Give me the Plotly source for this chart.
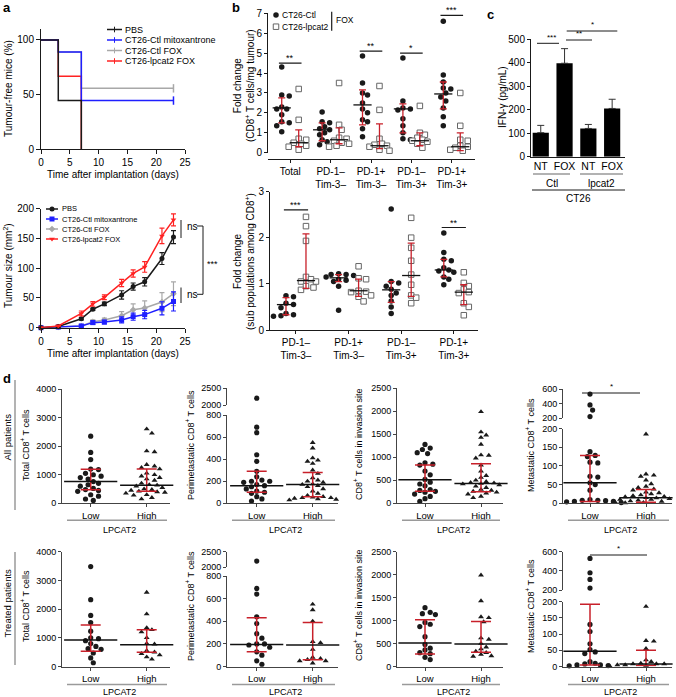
import plotly.graph_objects as go

W, H = 676, 697
FONT = "Liberation Sans"
BLACK = "#1a1a1a"
REDE = "#c8202a"
BLUE = "#1f1fff"
RED = "#ff2222"
GRAY = "#a8a8a8"

# ---------------- DATA ----------------
# a (top) Kaplan-Meier
km_pbs_days = [0, 3, 7]
km_pbs_pct = [100, 44.4, 0]
km_mito_days = [0, 3, 7, 23]
km_mito_pct = [100, 88.9, 44.4, 44.4]
km_ctlfox_days = [0, 3, 7, 23]
km_ctlfox_pct = [100, 88.9, 55.6, 55.6]
km_lpfox_days = [0, 3, 7]
km_lpfox_pct = [100, 66.7, 0]
km_legend = ["PBS", "CT26-Ctl mitoxantrone", "CT26-Ctl FOX", "CT26-lpcat2 FOX"]

# a (bottom) tumour growth
tg_days = [0, 3, 7, 9, 11, 14, 16, 18, 21, 23]
tg_pbs = [0, 2, 15, 31, 40, 55, 69, 77, 116, 152]
tg_pbs_err = [0.5, 1, 2, 2, 3, 7, 6, 7, 10, 11]
tg_mito = [0, 1, 3, 8.5, 9.5, 13, 18.5, 22, 32.5, 44]
tg_mito_err = [0.3, 0.5, 2, 3, 3, 5, 6, 7, 11, 16]
tg_ctlfox = [0, 1, 3, 10, 13, 20, 30, 33, 43, 57]
tg_ctlfox_err = [0.3, 0.5, 2, 3, 3, 7, 10, 12, 16, 20]
tg_lpfox = [0, 3, 24, 40, 51, 75, 91, 102, 154, 181]
tg_lpfox_err = [0.5, 1, 4, 4, 4, 6, 6, 9, 13, 10]

# b (top)
b_top_cats = ["Total", "PD-1–<br>Tim-3–", "PD-1+<br>Tim-3–", "PD-1–<br>Tim-3+", "PD-1+<br>Tim-3+"]
b_top_ctl = [
    [4.3, 2.9, 2.85, 2.3, 2.2, 2.2, 1.9, 1.55, 1.5, 1.35, 1.05],
    [2.05, 1.55, 1.5, 1.3, 1.2, 1.15, 1.0, 0.9, 0.65, 0.55, 0.4],
    [4.85, 3.5, 3.0, 2.9, 2.5, 2.2, 2.0, 1.65, 1.55, 1.2, 0.8],
    [4.75, 2.6, 2.25, 2.2, 2.15, 1.7, 1.35, 1.0, 0.7, 0.65],
    [6.6, 3.9, 3.55, 3.25, 3.2, 3.0, 2.8, 2.6, 2.25, 1.8, 1.35],
]
b_top_lp = [
    [3.2, 1.65, 0.7, 0.65, 0.5, 0.45, 0.35, 0.3, 0.15],
    [3.5, 1.4, 1.15, 0.75, 0.7, 0.6, 0.5, 0.45, 0.35, 0.3],
    [3.35, 2.15, 0.7, 0.45, 0.4, 0.35, 0.3, 0.15, 0.1],
    [2.35, 1.0, 0.9, 0.75, 0.65, 0.6, 0.55, 0.45, 0.25],
    [3.0, 1.35, 0.65, 0.6, 0.35, 0.3, 0.25, 0.15, 0.1],
]
b_top_ctl_stats = [(2.25, 1.5, 2.75), (1.15, 0.6, 1.5), (2.4, 1.4, 3.15), (2.2, 1.0, 2.45), (2.95, 2.2, 3.55)]
b_top_lp_stats = [(0.5, 0.3, 1.15), (0.65, 0.45, 1.25), (0.35, 0.2, 1.45), (0.6, 0.35, 1.0), (0.3, 0.1, 1.0)]
b_top_sig = [(0, 4.5, "**"), (2, 5.1, "**"), (3, 5.0, "*"), (4, 6.9, "***")]

# b (bottom)
b_bot_cats = ["PD-1–<br>Tim-3–", "PD-1+<br>Tim-3–", "PD-1–<br>Tim-3+", "PD-1+<br>Tim-3+"]
b_bot_ctl = [
    [0.74, 0.72, 0.58, 0.55, 0.48, 0.36, 0.33, 0.31, 0.3],
    [1.22, 1.2, 1.2, 1.18, 1.15, 1.1, 1.08, 1.05, 0.95, 0.43],
    [2.62, 1.05, 1.02, 0.95, 0.88, 0.8, 0.75, 0.63, 0.5, 0.36],
    [2.1, 1.68, 1.53, 1.5, 1.35, 1.3, 1.28, 1.25, 1.15, 1.1, 0.98],
]
b_bot_lp = [
    [2.45, 2.25, 1.93, 1.15, 1.1, 1.05, 1.05, 0.95, 0.92, 0.87],
    [1.38, 1.12, 1.1, 0.85, 0.83, 0.82, 0.75, 0.72, 0.62],
    [2.43, 2.0, 1.78, 1.5, 1.2, 0.98, 0.75, 0.7, 0.58],
    [1.25, 1.02, 0.95, 0.88, 0.82, 0.8, 0.58, 0.5, 0.32],
]
b_bot_ctl_stats = [(0.55, 0.33, 0.7), (1.13, 1.05, 1.2), (0.87, 0.6, 1.05), (1.3, 1.15, 1.53)]
b_bot_lp_stats = [(1.07, 0.9, 2.08), (0.85, 0.73, 1.1), (1.18, 0.73, 1.88), (0.82, 0.55, 0.98)]
b_bot_sig = [(0, 2.6, "***"), (3, 2.22, "**")]

# c
c_labels = ["NT", "FOX", "NT", "FOX"]
c_vals = [102, 397, 120, 205]
c_err = [31, 62, 17, 39]

# d
d_xcats = ["Low", "High"]
d_data = {
    "all_total": dict(
        low=[2350, 1780, 1530, 1200, 1180, 1050, 1000, 950, 900, 850, 760, 700, 650, 600, 520, 480, 450, 420, 300, 250, 150, 100],
        high=[2600, 2450, 1830, 1800, 1350, 1300, 1250, 1200, 1050, 1000, 950, 900, 850, 800, 700, 650, 630, 600, 550, 500, 480, 450, 420, 400, 380, 350, 300, 280, 250, 200, 150],
        low_stat=(760, 470, 1190), high_stat=(630, 420, 1200)),
    "all_peri": dict(
        low=[2200, 690, 640, 440, 380, 290, 240, 210, 200, 200, 190, 170, 160, 150, 130, 110, 100, 90, 60, 40, 20],
        high=[550, 500, 410, 390, 380, 360, 300, 270, 230, 210, 200, 190, 175, 170, 160, 150, 130, 110, 90, 70, 60, 55, 50, 50, 45, 40, 35, 30],
        low_stat=(160, 100, 290), high_stat=(170, 60, 280)),
    "all_inv": dict(
        low=[1280, 1200, 1170, 1100, 1080, 880, 850, 830, 700, 620, 520, 460, 420, 380, 300, 280, 260, 240, 200, 150, 100, 40],
        high=[1990, 1550, 1480, 1430, 1280, 1050, 1040, 980, 830, 700, 600, 560, 500, 470, 450, 440, 430, 420, 400, 370, 340, 300, 280, 260, 240, 220, 200, 150, 120],
        low_stat=(510, 260, 830), high_stat=(430, 250, 860)),
    "all_meta": dict(
        low=[530, 380, 310, 220, 138, 128, 125, 110, 108, 72, 70, 55, 50, 35, 10, 8, 8, 7, 5, 5, 4, 2],
        high=[640, 185, 78, 75, 72, 62, 52, 45, 42, 38, 35, 30, 28, 25, 22, 20, 18, 17, 15, 14, 12, 10, 10, 8, 6, 5, 5, 4, 3, 2, 1],
        low_stat=(55, 5, 128), high_stat=(15, 3, 37)),
    "tr_total": dict(
        low=[3480, 2330, 1780, 1530, 1230, 1000, 970, 900, 800, 700, 620, 600, 470, 300, 130],
        high=[2580, 1830, 1350, 1280, 1200, 1000, 800, 780, 550, 500, 450, 400, 330, 250],
        low_stat=(920, 530, 1450), high_stat=(760, 500, 1280)),
    "tr_peri": dict(
        low=[2200, 690, 640, 440, 380, 290, 250, 200, 200, 190, 170, 130, 100, 50, 20],
        high=[550, 500, 400, 220, 210, 150, 80, 70, 60, 50, 50, 30],
        low_stat=(195, 130, 430), high_stat=(190, 60, 390)),
    "tr_inv": dict(
        low=[1280, 1180, 1150, 1130, 960, 920, 870, 650, 480, 400, 360, 300, 280, 200, 150],
        high=[1990, 1430, 1080, 1060, 970, 620, 590, 500, 420, 380, 330, 300, 260, 230, 220],
        low_stat=(510, 270, 1020), high_stat=(490, 310, 980)),
    "tr_meta": dict(
        low=[530, 380, 310, 220, 130, 108, 70, 52, 45, 40, 15, 10, 8, 5, 5, 3, 2],
        high=[185, 80, 78, 55, 20, 15, 10, 8, 8, 8, 5, 5, 5, 3, 2, 2],
        low_stat=(47, 5, 192), high_stat=(8, 3, 50)),
}
d_titles = ["Total CD8<sup>+</sup> T cells", "Perimetastatic CD8<sup>+</sup> T cells",
            "CD8<sup>+</sup> T cells in invasion site", "Metastatic CD8<sup>+</sup> T cells"]

# ---------------- HELPERS ----------------
layout = dict(width=W, height=H, margin=dict(l=0, r=0, t=0, b=0), template="none",
              paper_bgcolor="white", plot_bgcolor="rgba(0,0,0,0)", showlegend=False,
              font=dict(family=FONT, color="black", size=10))
shapes, annotations, traces = [], [], []


def fx(px):
    return px / W


def fy(py):
    return 1 - py / H


def xn(n):
    return "x" if n == 1 else f"x{n}"


def yn(n):
    return "y" if n == 1 else f"y{n}"


def base_axis(fs=10):
    return dict(showgrid=False, zeroline=False, showline=True, linecolor=BLACK, linewidth=1,
                ticks="outside", ticklen=3, tickwidth=1, tickcolor=BLACK,
                tickfont=dict(family=FONT, size=fs, color="black"), fixedrange=True)


def set_x(n, px0, px1, rng, fs=10, **kw):
    d = base_axis(fs)
    d.update(domain=[fx(px0), fx(px1)], range=rng, anchor=yn(n))
    d.update(kw)
    layout["xaxis" if n == 1 else f"xaxis{n}"] = d


def set_y(n, pybot, pytop, rng, anchor_x=None, fs=10, **kw):
    d = base_axis(fs)
    d.update(domain=[fy(pybot), fy(pytop)], range=rng, anchor=xn(anchor_x or n))
    d.update(kw)
    layout["yaxis" if n == 1 else f"yaxis{n}"] = d


def ymap(pybot, pytop, r0, r1):
    return lambda v: pybot - (v - r0) / (r1 - r0) * (pybot - pytop)


def txt(px, py, s, size=10, xa="center", ya="middle", angle=0, color="black", bold=False):
    if bold:
        s = f"<b>{s}</b>"
    annotations.append(dict(x=fx(px), y=fy(py), xref="paper", yref="paper", text=s, showarrow=False,
                            font=dict(family=FONT, size=size, color=color), xanchor=xa, yanchor=ya,
                            textangle=angle, borderpad=0))


def line(px0, py0, px1, py1, color=BLACK, width=1):
    shapes.append(dict(type="line", xref="paper", yref="paper", x0=fx(px0), x1=fx(px1),
                       y0=fy(py0), y1=fy(py1), line=dict(color=color, width=width)))


def swarm_offsets(vals, ypx, d, step):
    order = sorted(range(len(vals)), key=lambda i: -vals[i])
    placed, offs = [], [0.0] * len(vals)
    cands = [0.0]
    for j in range(1, 80):
        cands += [j * step, -j * step]
    for i in order:
        y = ypx(vals[i])
        for c in cands:
            if all((c - px) ** 2 + (y - py) ** 2 >= d * d for px, py in placed):
                offs[i] = c
                placed.append((c, y))
                break
    return offs


def tickmark(c, size=6, width=1.5):
    return dict(symbol="line-ns-open", size=size, color=c, line=dict(color=c, width=width))


def medmark(size, width):
    return dict(symbol="line-ew-open", size=size, color="#111111", line=dict(color="#111111", width=width))


# overlay pixel axis (for legend glyphs)
layout["xaxis18"] = dict(domain=[0, 1], range=[0, W], visible=False, anchor="y18", fixedrange=True)
layout["yaxis18"] = dict(domain=[0, 1], range=[H, 0], visible=False, anchor="x18", fixedrange=True)

# ---------------- PANEL a top ----------------
set_x(1, 41, 185, [0, 25], tickvals=[0, 5, 10, 15, 20, 25], ticklen=4)
set_y(1, 149, 29, [0, 110], tickvals=[0, 50, 100], ticklen=4)
km_series = [
    (km_ctlfox_days, km_ctlfox_pct, GRAY),
    (km_lpfox_days, km_lpfox_pct, RED),
    (km_mito_days, km_mito_pct, BLUE),
    (km_pbs_days, km_pbs_pct, BLACK),
]
for dd, pp, c in km_series:
    traces.append(go.Scatter(x=dd, y=pp, mode="lines", line=dict(color=c, width=1.5, shape="hv"),
                             xaxis="x", yaxis="y", cliponaxis=False))
for dd, pp, c in [(km_ctlfox_days, km_ctlfox_pct, GRAY), (km_mito_days, km_mito_pct, BLUE)]:
    traces.append(go.Scatter(x=[dd[-1]], y=[pp[-1]], mode="markers", marker=tickmark(c, 6, 1.5),
                             xaxis="x", yaxis="y", cliponaxis=False))
txt(113, 174, "Time after implantation (days)", 10)
txt(8, 89, "Tumour-free mice (%)", 10, angle=-90)
km_cols = [BLACK, BLUE, GRAY, RED]
for i, (lab, c) in enumerate(zip(km_legend, km_cols)):
    yy = 29.5 + 10.5 * i
    traces.append(go.Scatter(x=[107, 122], y=[yy, yy], mode="lines", line=dict(color=c, width=1.5),
                             xaxis="x18", yaxis="y18"))
    traces.append(go.Scatter(x=[114.5], y=[yy], mode="markers", marker=tickmark(c, 4, 1),
                             xaxis="x18", yaxis="y18"))
    txt(124, yy, lab, 9, xa="left")

# ---------------- PANEL a bottom ----------------
set_x(2, 41, 185, [0, 25], tickvals=[0, 5, 10, 15, 20, 25], ticklen=4)
set_y(2, 327.7, 208.5, [0, 200], tickvals=[0, 50, 100, 150, 200], ticklen=4)
tg_series = [
    (tg_ctlfox, tg_ctlfox_err, GRAY, "diamond"),
    (tg_mito, tg_mito_err, BLUE, "square"),
    (tg_pbs, tg_pbs_err, BLACK, "circle"),
    (tg_lpfox, tg_lpfox_err, RED, "triangle-down"),
]
for v, e, c, sym in tg_series:
    traces.append(go.Scatter(x=tg_days, y=v, mode="lines+markers",
                             line=dict(color=c, width=1.5),
                             marker=dict(symbol=sym, size=5, color=c),
                             error_y=dict(type="data", array=e, color=c, thickness=1.2, width=2.5),
                             xaxis="x2", yaxis="y2", cliponaxis=False))
txt(113, 353, "Time after implantation (days)", 10)
txt(8, 266, "Tumour size (mm<sup>2</sup>)", 10, angle=-90)
leg2 = [(BLACK, "circle", "PBS"), (BLUE, "square", "CT26-Ctl mitoxantrone"),
        (GRAY, "diamond", "CT26-Ctl FOX"), (RED, "triangle-down", "CT26-lpcat2 FOX")]
for i, (c, sym, lab) in enumerate(leg2):
    yy = 209 + 10 * i
    traces.append(go.Scatter(x=[46, 52, 58], y=[yy, yy, yy], mode="lines", line=dict(color=c, width=1.5),
                             xaxis="x18", yaxis="y18"))
    traces.append(go.Scatter(x=[52], y=[yy], mode="markers", marker=dict(symbol=sym, size=5, color=c),
                             xaxis="x18", yaxis="y18"))
    txt(61, yy, lab, 7.5, xa="left")
# significance brackets
line(181, 220, 181, 238)
txt(186, 226.5, "ns", 10, xa="left")
line(197, 226, 203, 226)
line(203, 226, 203, 294.3)
line(197, 294.3, 203, 294.3)
txt(206, 264, "***", 9, xa="left")
line(181, 287.5, 181, 303)
txt(186, 294.5, "ns", 10, xa="left")

# ---------------- PANEL b top ----------------
set_x(3, 268, 475, [-0.55, 4.575], tickvals=list(range(5)), ticktext=b_top_cats)
layout["xaxis3"]["anchor"] = "free"
layout["xaxis3"]["position"] = fy(159.3)
set_y(3, 152.7, 13.3, [0, 7], tickvals=list(range(8)))
OFFB = 0.21


def draw_b(ctl, lp, ctl_stats, lp_stats, xa, ya, ypx, xscale):
    for side, data, stats in [(-1, ctl, ctl_stats), (1, lp, lp_stats)]:
        for i, vals in enumerate(data):
            o = swarm_offsets(vals, ypx, 5.3, 2.5)
            xs = [i + side * OFFB + oo / xscale for oo in o]
            if side < 0:
                mk = dict(symbol="circle", size=5.5, color=BLACK)
            else:
                mk = dict(symbol="square", size=5.5, color="white", line=dict(color="#666666", width=1))
            traces.append(go.Scatter(x=xs, y=vals, mode="markers", marker=mk, xaxis=xa, yaxis=ya,
                                     cliponaxis=False))
        traces.append(go.Scatter(
            x=[i + side * OFFB for i in range(len(stats))], y=[s[0] for s in stats], mode="markers",
            marker=medmark(13, 1.3),
            error_y=dict(type="data", symmetric=False, array=[s[2] - s[0] for s in stats],
                         arrayminus=[s[0] - s[1] for s in stats], color=REDE, thickness=1.3, width=3.5),
            xaxis=xa, yaxis=ya, cliponaxis=False))


draw_b(b_top_ctl, b_top_lp, b_top_ctl_stats, b_top_lp_stats, "x3", "y3",
       ymap(152.7, 13.3, 0, 7), (475 - 268) / 5.125)
for ci, yv, s in b_top_sig:
    shapes.append(dict(type="line", xref="x3", yref="y3", x0=ci - 0.28, x1=ci + 0.28, y0=yv, y1=yv,
                       line=dict(color=BLACK, width=1.2)))
    annotations.append(dict(x=ci, y=yv, xref="x3", yref="y3", text=s, showarrow=False, yanchor="bottom",
                            font=dict(family=FONT, size=9, color="black"), yshift=-2))
txt(244, 86, "Fold change<br>(CD8<sup>+</sup> T cells/mg tumour)", 10, angle=-90)
# legend b
traces.append(go.Scatter(x=[276], y=[15], mode="markers", marker=dict(symbol="circle", size=5.5, color=BLACK),
                         xaxis="x18", yaxis="y18"))
traces.append(go.Scatter(x=[276], y=[26.7], mode="markers",
                         marker=dict(symbol="square", size=5.5, color="white", line=dict(color="#666", width=1)),
                         xaxis="x18", yaxis="y18"))
txt(280.5, 15, "CT26-Ctl", 8.5, xa="left")
txt(280.5, 26.7, "CT26-lpcat2", 8.5, xa="left")
line(331.7, 11.7, 331.7, 30.7, BLACK, 1.2)
txt(335, 20, "FOX", 8.5, xa="left")

# ---------------- PANEL b bottom ----------------
set_x(4, 270, 478, [-0.494, 3.46], tickvals=list(range(4)), ticktext=b_bot_cats)
set_y(4, 330, 191.5, [0, 3], tickvals=[0, 1, 2, 3])
OFFB = 0.19
draw_b(b_bot_ctl, b_bot_lp, b_bot_ctl_stats, b_bot_lp_stats, "x4", "y4",
       ymap(330, 191.5, 0, 3), (478 - 270) / 3.954)
for ci, yv, s in b_bot_sig:
    shapes.append(dict(type="line", xref="x4", yref="y4", x0=ci - 0.23, x1=ci + 0.23, y0=yv, y1=yv,
                       line=dict(color=BLACK, width=1.2)))
    annotations.append(dict(x=ci, y=yv, xref="x4", yref="y4", text=s, showarrow=False, yanchor="bottom",
                            font=dict(family=FONT, size=9, color="black"), yshift=-2))
txt(244, 262, "Fold change<br>(sub populations among CD8<sup>+</sup>)", 10, angle=-90)

# ---------------- PANEL c ----------------
set_x(5, 531, 625, [-0.41, 3.54], tickvals=list(range(4)), ticktext=c_labels, ticks="", fs=10.5)
set_y(5, 156.7, 39, [0, 500], tickvals=[0, 100, 200, 300, 400, 500])
traces.append(go.Bar(x=list(range(4)), y=c_vals, width=0.68, marker=dict(color="black", line=dict(width=0)),
                     error_y=dict(type="data", symmetric=False, array=c_err, arrayminus=[0] * 4,
                                  color="#333", thickness=1, width=3.5),
                     xaxis="x5", yaxis="y5"))
txt(502, 97, "IFN-γ (pg/mL)", 10, angle=-90)
line(533, 174, 570, 174, "#999999", 1.5)
line(580, 174, 623, 174, "#999999", 1.5)
txt(551.5, 183.5, "Ctl", 10)
txt(601.5, 183.5, "lpcat2", 10)
line(532, 190, 625, 190, BLACK, 1)
txt(578.5, 198.5, "CT26", 10)
# sig
line(537, 43.3, 559, 43.3)
txt(551.7, 42.5, "***", 8, ya="bottom")
line(566, 40, 592, 40)
txt(579, 39.2, "**", 8, ya="bottom")
line(566.7, 31, 617.3, 31)
txt(592.7, 30.2, "*", 8, ya="bottom")

# ---------------- PANEL d ----------------
cols = [(62, 170, 90.7), (227, 338, 256.7), (397, 503, 425), (563, 672, 590)]
XS = 56.0
row_zero = [503.3, 666.5]
d_specs = [
    ("all_total", 0, 0, 6, (0, 4000, 389, [0, 1000, 2000, 3000, 4000]), None),
    ("all_peri", 0, 1, 7, (0, 800, 415, [0, 200, 400, 600, 800]), (8, 2000, 2500, 405, 388, [2000, 2500])),
    ("all_inv", 0, 2, 9, (0, 2500, 388.3, [0, 500, 1000, 1500, 2000, 2500]), None),
    ("all_meta", 0, 3, 10, (0, 200, 428.5, [0, 50, 100, 150, 200]), (11, 200, 600, 418, 389, [200, 400, 600])),
    ("tr_total", 1, 0, 12, (0, 4000, 551.7, [0, 1000, 2000, 3000, 4000]), None),
    ("tr_peri", 1, 1, 13, (0, 800, 576, [0, 200, 400, 600, 800]), (14, 2000, 2500, 567.3, 551.7, [2000, 2500])),
    ("tr_inv", 1, 2, 15, (0, 2500, 551.7, [0, 500, 1000, 1500, 2000, 2500]), None),
    ("tr_meta", 1, 3, 16, (0, 200, 601.7, [0, 50, 100, 150, 200]), (17, 200, 600, 590, 551.7, [200, 400, 600])),
]
DFS = 9
for key, row, col, n, low_seg, up_seg in d_specs:
    dat = d_data[key]
    x0, x1, lowpx = cols[col]
    zero = row_zero[row]
    r0, r1, ptop, tv = low_seg
    set_x(n, x0, x1, [(x0 - lowpx) / XS, (x1 - lowpx) / XS], fs=9.5, tickvals=[0, 1], ticktext=d_xcats,
          linecolor="#444", tickcolor="#444")
    set_y(n, zero, ptop, [r0, r1], fs=DFS, tickvals=tv, linecolor="#444", tickcolor="#444")
    lowmap = ymap(zero, ptop, r0, r1)
    upmap = None
    if up_seg:
        un, ur0, ur1, upb, upt, utv = up_seg
        set_y(un, upb, upt, [ur0, ur1], anchor_x=n, fs=DFS, tickvals=utv, linecolor="#444", tickcolor="#444")
        upmap = ymap(upb, upt, ur0, ur1)

    def is_up(v):
        return bool(up_seg) and v > r1

    def pmap(v):
        return upmap(v) if is_up(v) else lowmap(v)

    for g, (vals, sym, sz) in enumerate([(dat["low"], "circle", 5.2), (dat["high"], "triangle-up", 5.2)]):
        o = swarm_offsets(vals, pmap, 5.4, 2.6)
        lo_x = [g + oo / XS for oo, v in zip(o, vals) if not is_up(v)]
        lo_y = [v for v in vals if not is_up(v)]
        traces.append(go.Scatter(x=lo_x, y=lo_y, mode="markers", marker=dict(symbol=sym, size=sz, color=BLACK),
                                 xaxis=xn(n), yaxis=yn(n), cliponaxis=False))
        if up_seg:
            hi_x = [g + oo / XS for oo, v in zip(o, vals) if is_up(v)]
            hi_y = [v for v in vals if is_up(v)]
            traces.append(go.Scatter(x=hi_x, y=hi_y, mode="markers",
                                     marker=dict(symbol=sym, size=sz, color=BLACK),
                                     xaxis=xn(n), yaxis=yn(up_seg[0]), cliponaxis=False))
    stats = [dat["low_stat"], dat["high_stat"]]
    traces.append(go.Scatter(
        x=[0, 1], y=[s[0] for s in stats], mode="markers",
        marker=medmark(38, 1.5),
        error_y=dict(type="data", symmetric=False, array=[s[2] - s[0] for s in stats],
                     arrayminus=[s[0] - s[1] for s in stats], color=REDE, thickness=1.5, width=10),
        xaxis=xn(n), yaxis=yn(n), cliponaxis=False))
    # underline and LPCAT2 label
    uy = zero + 17 if row == 0 else zero + 18
    line(x0 + 5, uy, x1 - 3, uy, "#9a9a9a", 1.5)
    txt((x0 + x1) / 2 + 3, uy + (9.5 if row == 0 else 7.5), "LPCAT2", 9)
    # y title
    tx = [25, 190, 358, 530][col]
    ty = 445 if row == 0 else 606
    txt(tx, ty, d_titles[col], 9, angle=-90)

# significance in d
line(582, 393, 640, 393, BLACK, 1)
txt(611, 392, "*", 8, ya="bottom")
line(590, 555, 647, 555, BLACK, 1)
txt(618.5, 554, "*", 8, ya="bottom")
# row labels
line(15, 380, 15, 510, "#9a9a9a", 1.5)
line(15, 552, 15, 665, "#9a9a9a", 1.5)
txt(6.5, 437, "All patients", 9.5, angle=-90)
txt(6.5, 603, "Treated patients", 9.5, angle=-90)

# panel labels
txt(2, 8, "a", 13, xa="left", bold=True)
txt(231, 8, "b", 13, xa="left", bold=True)
txt(486, 14, "c", 13, xa="left", bold=True)
txt(2, 378, "d", 13, xa="left", bold=True)

layout["shapes"] = shapes
layout["annotations"] = annotations
fig = go.Figure(data=traces, layout=layout)
fig.write_html("out.html", config={"displayModeBar": False, "staticPlot": True},
               post_script="document.body.style.margin='0px';")
